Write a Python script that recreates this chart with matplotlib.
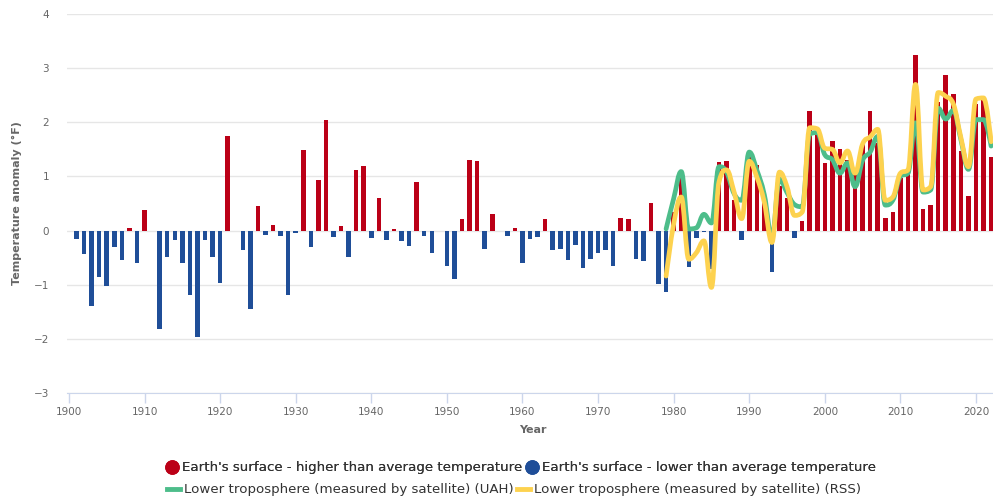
import numpy as np
import matplotlib.pyplot as plt
from matplotlib.path import Path
from matplotlib.patches import PathPatch
from matplotlib.lines import Line2D

plt.rcParams['font.family'] = ['DejaVu Sans']

# surface temperature anomaly, contiguous 48 states (deg F)
years = list(range(1901, 2023))
surface = [
    -0.15, -0.43, -1.40, -0.86, -1.02, -0.31, -0.54, 0.04, -0.60, 0.38,   # 1901-1910
    0.00, -1.81, -0.48, -0.18, -0.59, -1.19, -1.96, -0.17, -0.48, -0.96,   # 1911-1920
    1.74, 0.00, -0.36, -1.44, 0.46, -0.08, 0.10, -0.10, -1.19, -0.04,      # 1921-1930
    1.48, -0.30, 0.94, 2.05, -0.12, 0.09, -0.48, 1.12, 1.20, -0.14,        # 1931-1940
    0.60, -0.18, 0.02, -0.20, -0.28, 0.90, -0.10, -0.42, 0.00, -0.65,      # 1941-1950
    -0.90, 0.22, 1.31, 1.28, -0.34, 0.30, 0.00, -0.10, 0.05, -0.59,        # 1951-1960
    -0.16, -0.12, 0.22, -0.36, -0.34, -0.54, -0.27, -0.70, -0.52, -0.41,   # 1961-1970
    -0.36, -0.66, 0.23, 0.22, -0.52, -0.56, 0.51, -0.99, -1.14, 0.34,      # 1971-1980
    1.00, -0.67, -0.13, -0.03, -0.71, 1.27, 1.28, 0.57, -0.17, 1.46,       # 1981-1990
    1.22, 0.52, -0.76, 0.83, 0.60, -0.14, 0.17, 2.20, 1.80, 1.24,          # 1991-2000
    1.65, 1.50, 1.30, 1.10, 1.60, 2.21, 1.62, 0.24, 0.35, 0.97,            # 2001-2010
    1.13, 3.24, 0.39, 0.48, 2.38, 2.88, 2.52, 1.47, 0.63, 2.34,            # 2011-2020
    2.47, 1.36,                                                            # 2021-2022
]

# lower troposphere, satellite records
sat_years = list(range(1979, 2023))
uah = [
    0.03, 0.59, 1.09, 0.03, 0.05, 0.30, 0.14, 1.18, 1.08, 0.68,
    0.56, 1.45, 1.12, 0.66, -0.12, 0.95, 0.70, 0.48, 0.44, 1.78,
    1.81, 1.40, 1.31, 1.06, 1.25, 0.81, 1.30, 1.45, 1.74, 0.47,
    0.56, 1.00, 1.06, 1.99, 0.71, 0.75, 2.26, 2.06, 2.22, 1.68,
    1.13, 2.05, 2.05, 1.56,
]
rss = [
    -0.84, 0.12, 0.62, -0.53, -0.41, -0.19, -1.05, 0.90, 1.12, 0.71,
    0.22, 1.28, 0.99, 0.52, -0.22, 1.08, 0.81, 0.28, 0.34, 1.90,
    1.88, 1.52, 1.50, 1.25, 1.47, 1.06, 1.60, 1.73, 1.87, 0.56,
    0.62, 1.06, 1.12, 2.70, 0.75, 0.81, 2.55, 2.48, 2.34, 1.72,
    1.18, 2.43, 2.45, 1.64,
]

red = '#bb0017'
blue = '#1f4e98'
green = '#4dbd8a'
yellow = '#fdd24f'


def spline_path(x, y, smoothing=1.5):
    # highcharts style spline: cubic beziers with clamped control points
    x = np.asarray(x, float)
    y = np.asarray(y, float)
    n = len(x)
    rcx = list(x)
    rcy = list(y)
    verts = [(x[0], y[0])]
    codes = [Path.MOVETO]
    denom = smoothing + 1
    for i in range(1, n):
        px, py = x[i], y[i]
        lcx, lcy = px, py
        if i < n - 1:
            lx, ly = x[i - 1], y[i - 1]
            nx, ny = x[i + 1], y[i + 1]
            lcx = (smoothing * px + lx) / denom
            lcy = (smoothing * py + ly) / denom
            rx = (smoothing * px + nx) / denom
            ry = (smoothing * py + ny) / denom
            corr = (ry - lcy) * (rx - px) / (rx - lcx) + py - ry
            lcy += corr
            ry += corr
            if lcy > ly and lcy > py:
                lcy = max(ly, py)
                ry = 2 * py - lcy
            elif lcy < ly and lcy < py:
                lcy = min(ly, py)
                ry = 2 * py - lcy
            if ry > ny and ry > py:
                ry = max(ny, py)
                lcy = 2 * py - ry
            elif ry < ny and ry < py:
                ry = min(ny, py)
                lcy = 2 * py - ry
            rcx[i], rcy[i] = rx, ry
        verts += [(rcx[i - 1], rcy[i - 1]), (lcx, lcy), (px, py)]
        codes += [Path.CURVE4] * 3
    return Path(verts, codes)


fig = plt.figure(figsize=(9.93, 5.01), dpi=100)
ax = fig.add_axes([67 / 993, 108 / 501, 926 / 993, 379 / 501])

colors = [red if v > 0 else blue for v in surface]
ax.bar(years, surface, width=0.6, color=colors, zorder=2)

for vals, col in [(uah, green), (rss, yellow)]:
    patch = PathPatch(spline_path(sat_years, vals), facecolor='none', edgecolor=col,
                      lw=3.4, capstyle='round', joinstyle='round', zorder=3)
    ax.add_patch(patch)

ax.set_xlim(1899.74, 2022.25)
ax.set_ylim(-3, 4)
ax.set_yticks(range(-3, 5))
ax.set_xticks(range(1900, 2030, 10))
ax.yaxis.grid(True, color='#e6e6e6', lw=1)
ax.set_axisbelow(True)
for s in ['top', 'right', 'left']:
    ax.spines[s].set_visible(False)
ax.spines['bottom'].set_color('#ccd6eb')
ax.tick_params(axis='y', length=0, pad=13, labelsize=7.5, labelcolor='#666666')
ax.tick_params(axis='x', length=7, width=1, color='#ccd6eb', pad=3, labelsize=7.5,
               labelcolor='#666666')

fig.text(17 / 993, 1 - 203 / 501, 'Temperature anomaly (°F)', rotation=90, ha='center',
         va='center', fontsize=8, color='#666666', fontweight='bold')
fig.text(533 / 993, 1 - 430 / 501, 'Year', ha='center', va='center', fontsize=8,
         color='#666666', fontweight='bold')

h1 = [Line2D([], [], marker='o', ls='none', color=red, markersize=9.5),
      Line2D([], [], marker='o', ls='none', color=blue, markersize=9.5)]
l1 = ["Earth's surface - higher than average temperature",
      "Earth's surface - lower than average temperature"]
h2 = [Line2D([], [], color=green, lw=3.5), Line2D([], [], color=yellow, lw=3.5)]
l2 = ['Lower troposphere (measured by satellite) (UAH)',
      'Lower troposphere (measured by satellite) (RSS)']

kw = dict(ncol=2, loc='center', frameon=False, fontsize=9.6, labelcolor='#333333',
          handletextpad=0.3, columnspacing=0.25, borderaxespad=0, borderpad=0)
leg1 = fig.legend(h1, l1, bbox_to_anchor=(521 / 993, 1 - 468 / 501), handlelength=0.9, **kw)
fig.add_artist(leg1)
fig.legend(h2, l2, bbox_to_anchor=(514 / 993, 1 - 490 / 501), handlelength=1.0, **kw)

fig.savefig('out.png', dpi=100)
